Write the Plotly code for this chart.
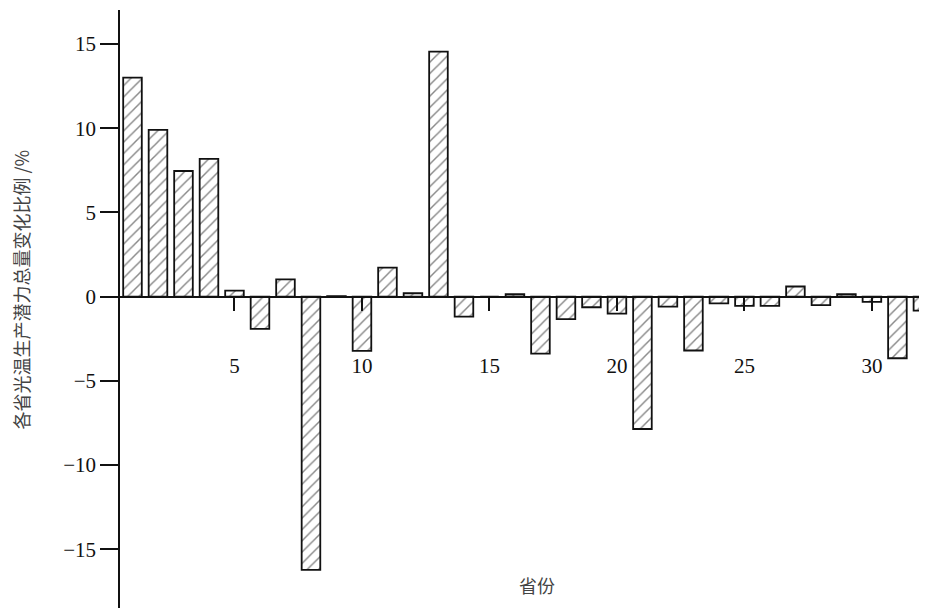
import plotly.graph_objects as go

# Data
provinces = list(range(1, 33))
change_pct = [13.0, 9.9, 7.46, 8.18, 0.36, -1.92, 1.03, -16.23, 0.03, -3.22,
              1.72, 0.2, 14.55, -1.19, 0.0, 0.14, -3.38, -1.34, -0.63, -1.01,
              -7.86, -0.59, -3.2, -0.4, -0.55, -0.55, 0.6, -0.51, 0.14, -0.31,
              -3.66, -0.83]
x_ticks = [5, 10, 15, 20, 25, 30]
y_ticks = [-15, -10, -5, 0, 5, 10, 15]

y_range = [-18.49, 17.02]
x_range = [0.51, 32.16]
zero_frac = (0 - y_range[0]) / (y_range[1] - y_range[0])

# page body has an 8px margin; compensate so the plot lands where the reference has it
W, H = 919, 601
ML, MR, MT, MB = 112, 0, 2, 1
pw = W - ML - MR
ph = H - MT - MB

fig = go.Figure()
fig.add_trace(go.Bar(
    x=provinces, y=change_pct, width=0.73,
    marker=dict(color="white",
                line=dict(color="#111", width=1.8),
                pattern=dict(shape="/", size=8, solidity=0.18,
                             fgcolor="#111", bgcolor="white")),
    showlegend=False,
))

axis_font = dict(family="Liberation Serif, Times New Roman, serif", size=21, color="#111")

fig.update_layout(
    width=W, height=H,
    margin=dict(l=ML, r=MR, t=MT, b=MB, autoexpand=False),
    plot_bgcolor="white", paper_bgcolor="white",
    xaxis=dict(range=x_range, tickvals=x_ticks, ticktext=[str(v) for v in x_ticks],
               anchor="free", position=zero_frac, side="bottom",
               showline=True, linecolor="#111", linewidth=1.5,
               ticks="outside", ticklen=14, tickwidth=1.5, tickcolor="#111",
               ticklabelstandoff=36,
               showgrid=False, zeroline=False, tickfont=axis_font),
    yaxis=dict(range=y_range, tickvals=y_ticks,
               showline=True, linecolor="#111", linewidth=1.5,
               ticks="outside", ticklen=18, tickwidth=1.5, tickcolor="#111",
               showgrid=False, zeroline=False, tickfont=axis_font),
    annotations=[
        dict(text="各省光温生产潜力总量变化比例 /%", xref="paper", yref="paper",
             x=-(ML + 8 - 20.5) / pw, y=1 - (290 - 8 - MT) / ph,
             xanchor="center", yanchor="middle",
             textangle=-90, showarrow=False,
             font=dict(family="Noto Sans CJK SC", size=18, color="#444")),
        dict(text="省份", xref="paper", yref="paper",
             x=(536.5 - 8 - ML) / pw, y=1 - (585 - 8 - MT) / ph,
             xanchor="center", yanchor="middle",
             showarrow=False,
             font=dict(family="Noto Sans CJK SC", size=18, color="#444")),
    ],
)

fig.write_html("out.html")
